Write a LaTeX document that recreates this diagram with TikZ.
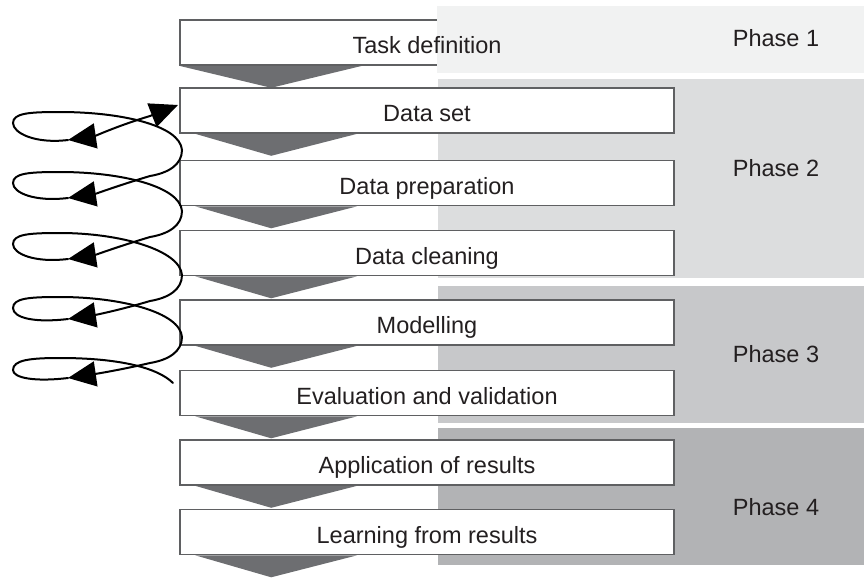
\documentclass[tikz,border=0pt]{standalone}
\usepackage{fontspec}
\setmainfont{Liberation Sans}
\usetikzlibrary{arrows.meta,backgrounds}

\definecolor{boxline}{HTML}{5F6062}
\definecolor{dropgray}{HTML}{6D6E71}
\definecolor{phaseone}{HTML}{F1F2F2}
\definecolor{phasetwo}{HTML}{DCDDDE}
\definecolor{phasethree}{HTML}{C7C8CA}
\definecolor{phasefour}{HTML}{B2B3B5}
\definecolor{labelgray}{HTML}{231F20}

\begin{document}
\begin{tikzpicture}[x=1pt, y=-1pt,
    bigfont/.style={font=\fontsize{23.5}{28}\selectfont, text=labelgray},
    steptext/.style={bigfont, text height=22pt, text depth=0pt},
    stepbox/.style={steptext, draw=boxline, line width=1.6pt, fill=white,
      minimum width=494pt, minimum height=45pt, inner sep=0pt},
    phaselabel/.style={bigfont, anchor=base},
    drop/.style={fill=dropgray},
    loopline/.style={line width=2pt, line cap=round},
    loophead/.style={-{Triangle[length=28pt, width=25pt]}}]
    \useasboundingbox (0,0) rectangle (864,578);

    % Process steps
    \node[stepbox] (task) at (427,42.5) {};
    \node[stepbox] (dataset) at (427,110.5) {Data set};
    \node[stepbox] (prep) at (427,183) {Data preparation};
    \node[stepbox] (clean) at (427,253) {Data cleaning};
    \node[stepbox] (model) at (427,322.5) {Modelling};
    \node[stepbox] (eval) at (427,393) {Evaluation and validation};
    \node[stepbox] (apply) at (427,462.5) {Application of results};
    \node[stepbox] (learn) at (427,532) {Learning from results};

    \begin{scope}[on background layer]
        % Phase bands
        \fill[phasetwo] (438,79) rectangle (864,278);
        \fill[phasethree] (438,286) rectangle (864,423);
        \fill[phasefour] (438,428) rectangle (864,565);

        % Gray drops between the steps
        \fill[drop] (task.south west) -- ([xshift=183pt]task.south west)
            -- ([xshift=92pt, yshift=-22pt]task.south west) -- cycle;
        \foreach \n in {dataset,prep,clean,model,eval,apply,learn}
            \fill[drop] ([xshift=16pt]\n.south west) -- ([xshift=178pt]\n.south west)
                -- ([xshift=92pt, yshift=-22pt]\n.south west) -- cycle;
    \end{scope}

    % Phase 1 band lies over the first step
    \fill[phaseone] (437,6) rectangle (864,73);
    \node[steptext] (tasktext) at (task) {Task definition};

    % Phase labels
    \node[phaselabel] (p1) at (776,46.5) {Phase 1};
    \node[phaselabel] (p2) at (776,176.5) {Phase 2};
    \node[phaselabel] (p3) at (776,362) {Phase 3};
    \node[phaselabel] (p4) at (776,515) {Phase 4};

    % Iteration spiral: leftmost y / arrow tip y / next leftmost y
    \coordinate (entry) at (178,105);
    \draw[loopline, loophead] (150,116) -- (entry);
    \foreach \y/\t/\n in {123/140/183, 183/198/244, 244/259/308, 308/319/370} {
        \draw[loopline, loophead] (150,\y-7) .. controls (120,\y+2) and (95,\t-4) .. (68,\t);
        \draw[loopline] (68,\t) .. controls (35,\t+4) and (13,\y+10) .. (13,\y)
            .. controls (13,\y-10) and (30,\y-11) .. (60,\y-11)
            .. controls (120,\y-11) and (180,\n-58) .. (182,\n-33)
            .. controls (182,\n-18) and (168,\n-10) .. (150,\n-7);
    }
    \draw[loopline, loophead] (150,363) .. controls (120,370) and (95,374) .. (68,378);
    \draw[loopline] (68,378) .. controls (35,382) and (13,378) .. (13,370)
        .. controls (13,360) and (30,358) .. (60,358)
        .. controls (120,358) and (158,368) .. (173,383);
\end{tikzpicture}
\end{document}
